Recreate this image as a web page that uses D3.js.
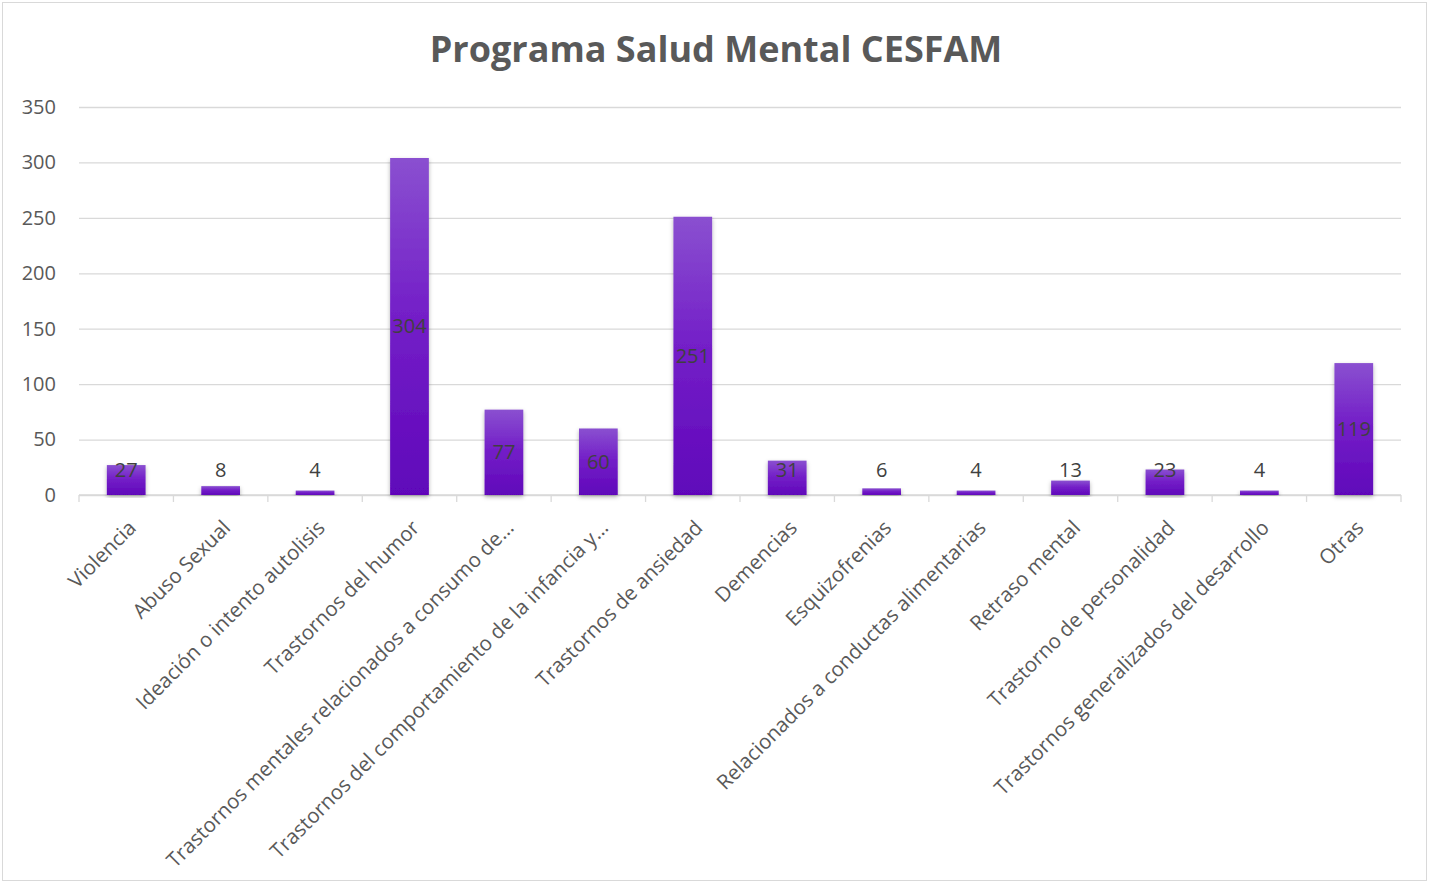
<!DOCTYPE html>
<html>
<head>
<meta charset="utf-8">
<script src="https://cdn.jsdelivr.net/npm/d3@7"></script>
<style>
  body { margin: 0; background: #fff; }
  text { font-family: "Open Sans", sans-serif; }
</style>
</head>
<body>
<div id="chart"></div>
<script>
// datos del gráfico
var categorias = ["Violencia", "Abuso Sexual", "Ideación o intento autolisis", "Trastornos del humor",
  "Trastornos mentales relacionados a consumo de…", "Trastornos del comportamiento de la infancia y…",
  "Trastornos de ansiedad", "Demencias", "Esquizofrenias", "Relacionados a conductas alimentarias",
  "Retraso mental", "Trastorno de personalidad", "Trastornos generalizados del desarrollo", "Otras"];
var valores = [27, 8, 4, 304, 77, 60, 251, 31, 6, 4, 13, 23, 4, 119];
var yTicks = [0, 50, 100, 150, 200, 250, 300, 350];
var titulo = "Programa Salud Mental CESFAM";

var W = 1429, H = 883;
var margin = {top: 107, right: 28, bottom: 388, left: 79};
var width = W - margin.left - margin.right,
    height = H - margin.top - margin.bottom;

var svg = d3.select("#chart").append("svg")
  .attr("width", W)
  .attr("height", H);

var defs = svg.append("defs");
var grad = defs.append("linearGradient")
  .attr("id", "barGrad")
  .attr("x1", 0).attr("y1", 0).attr("x2", 0).attr("y2", 1);
grad.append("stop").attr("offset", "0%").attr("stop-color", "#8a50d0");
grad.append("stop").attr("offset", "45%").attr("stop-color", "#7420c8");
grad.append("stop").attr("offset", "100%").attr("stop-color", "#6006ba");

var shadow = defs.append("filter").attr("id", "sombra")
  .attr("x", "-20%").attr("y", "-5%").attr("width", "140%").attr("height", "115%");
shadow.append("feDropShadow")
  .attr("dx", 0).attr("dy", 2).attr("stdDeviation", 2)
  .attr("flood-color", "#000").attr("flood-opacity", 0.3);

// borde exterior
svg.append("rect")
  .attr("x", 2.5).attr("y", 2.5)
  .attr("width", W - 5).attr("height", H - 5)
  .attr("fill", "none")
  .attr("stroke", "#d9d9d9");

svg.append("text")
  .attr("x", 716)
  .attr("y", 62)
  .attr("text-anchor", "middle")
  .attr("font-size", "36px")
  .attr("font-weight", "bold")
  .attr("fill", "#595959")
  .text(titulo);

var g = svg.append("g")
  .attr("transform", "translate(" + margin.left + "," + margin.top + ")");

var x = d3.scaleBand()
  .domain(categorias)
  .range([0, width])
  .paddingInner(0.59)
  .paddingOuter(0.295);

var xCat = d3.scaleBand().domain(categorias).range([0, width]);

var y = d3.scaleLinear()
  .domain([0, 350])
  .range([height, 0]);

// líneas de cuadrícula
g.append("g")
  .attr("class", "grid")
  .call(d3.axisLeft(y).tickValues(yTicks).tickSize(-width).tickFormat(""))
  .call(function(s) {
    s.select(".domain").remove();
    s.selectAll("line").attr("stroke", "#d9d9d9").attr("stroke-width", 1.3);
  });

// etiquetas eje y
g.append("g")
  .call(d3.axisLeft(y).tickValues(yTicks).tickSize(0).tickPadding(23))
  .call(function(s) {
    s.select(".domain").remove();
    s.selectAll("text")
      .attr("font-size", "20px")
      .attr("fill", "#595959")
      .style("font-family", "'Open Sans', sans-serif");
  });

// eje x con marcas entre categorías
var xAxis = g.append("g")
  .attr("transform", "translate(0," + height + ")");
xAxis.append("line")
  .attr("x1", 0).attr("x2", width)
  .attr("stroke", "#d9d9d9").attr("stroke-width", 1.3);
xAxis.selectAll("line.tick")
  .data(d3.range(categorias.length + 1))
  .enter().append("line")
  .attr("class", "tick")
  .attr("x1", function(i) { return i * xCat.step(); })
  .attr("x2", function(i) { return i * xCat.step(); })
  .attr("y1", 0).attr("y2", 7)
  .attr("stroke", "#d9d9d9").attr("stroke-width", 1.3);

xAxis.selectAll("text.cat")
  .data(categorias)
  .enter().append("text")
  .attr("class", "cat")
  .attr("transform", function(d) {
    return "translate(" + (xCat(d) + xCat.bandwidth() / 2 + 6) + ",29) rotate(-45)";
  })
  .attr("text-anchor", "end")
  .attr("dy", "0.35em")
  .attr("font-size", "20.5px")
  .attr("fill", "#595959")
  .text(function(d) { return d; });

// barras
g.selectAll("rect.bar")
  .data(valores)
  .enter().append("rect")
  .attr("class", "bar")
  .attr("x", function(d, i) { return x(categorias[i]); })
  .attr("y", function(d) { return y(d); })
  .attr("width", x.bandwidth())
  .attr("height", function(d) { return height - y(d); })
  .attr("fill", "url(#barGrad)")
  .attr("filter", "url(#sombra)");

// etiquetas de datos
g.selectAll("text.val")
  .data(valores)
  .enter().append("text")
  .attr("class", "val")
  .attr("x", function(d, i) { return x(categorias[i]) + x.bandwidth() / 2; })
  .attr("y", function(d) { return Math.min(y(d / 2), height - 25); })
  .attr("dy", "0.35em")
  .attr("text-anchor", "middle")
  .attr("font-size", "20px")
  .attr("fill", "#404040")
  .text(function(d) { return d; });
</script>
</body>
</html>
